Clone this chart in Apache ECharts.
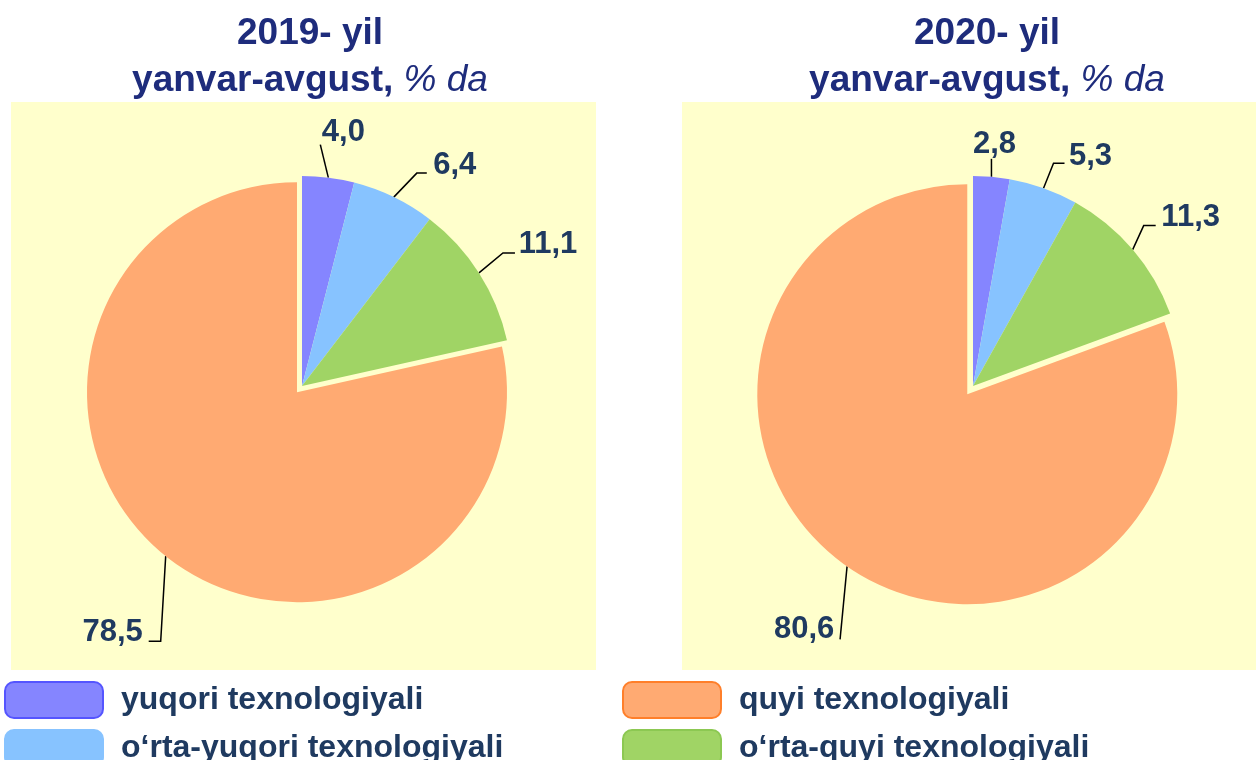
<!DOCTYPE html>
<html>
<head>
<meta charset="utf-8">
<script src="https://cdn.jsdelivr.net/npm/echarts@6/dist/echarts.min.js"></script>
<style>
html, body { margin: 0; padding: 0; background: #fff; }
#main { width: 1256px; height: 760px; }
</style>
</head>
<body>
<div id="main"></div>
<script>
var categories = ['yuqori texnologiyali', 'o\u2018rta-yuqori texnologiyali', 'o\u2018rta-quyi texnologiyali', 'quyi texnologiyali'];
var values2019 = [4.0, 6.4, 11.1, 78.5];
var values2020 = [2.8, 5.3, 11.3, 80.6];
var years = ['2019- yil', '2020- yil'];

var colors = ['#8585ff', '#87c3ff', '#a0d465', '#ffaa72'];
var borderColors = ['#5555ff', '#87c3ff', '#8cc852', '#ff7f2a'];
var textColor = '#1f3a60';
var titleColor = '#1e2c7c';
var font = '"Liberation Sans", Arial, sans-serif';

// leader line per slice: [bend dx, bend dy, tail, label dx, label dy] (from the slice edge)
var leaders2019 = [[-8, -33, 0, 23, -12], [23, -24, 10, 28, -8], [24, -20, 12, 33, -8], [-5, 85, -12, -36, -9]];
var leaders2020 = [[0, -18, 0, 3, -14], [10, -25, 11, 26, -7], [11, -24, 12, 35, -8], [-7, 73, 0, -36, -10]];

function fmt(p) {
    return p.value.toFixed(1).replace('.', ',');
}

function pieSeries(values, center, offset, leaders) {
    return {
        type: 'pie',
        center: center,
        radius: 210,
        startAngle: 90,
        clockwise: true,
        selectedMode: 'single',
        selectedOffset: offset,
        avoidLabelOverlap: false,
        animation: false,
        emphasis: { disabled: true },
        label: {
            show: true,
            position: 'outside',
            color: textColor,
            fontSize: 31,
            fontWeight: 'bold',
            fontFamily: font,
            formatter: fmt
        },
        labelLine: { show: true, lineStyle: { color: '#000', width: 1.5 } },
        labelLayout: function (p) {
            var c = leaders[p.dataIndex];
            var a = p.labelLinePoints[0];
            var bend = [a[0] + c[0], a[1] + c[1]];
            var end = [bend[0] + c[2], bend[1]];
            var r = p.labelRect;
            return {
                dx: end[0] + c[3] - (r.x + r.width / 2),
                dy: end[1] + c[4] - (r.y + r.height / 2),
                labelLinePoints: [a, bend, end]
            };
        },
        data: values.map(function (v, i) {
            var item = { name: categories[i], value: v, itemStyle: { color: colors[i] } };
            if (i === 3) item.selected = true;
            return item;
        })
    };
}

function titleOf(year, x) {
    return {
        text: '{b|' + year + '}\n{b|yanvar-avgust, }{i|% da}',
        left: x,
        top: 5,
        textAlign: 'center',
        textStyle: {
            rich: {
                b: { fontSize: 37, fontWeight: 'bold', color: titleColor, fontFamily: font, lineHeight: 47 },
                i: { fontSize: 37, fontWeight: 'normal', fontStyle: 'italic', color: titleColor, fontFamily: font, lineHeight: 47 }
            }
        }
    };
}

function legendItem(i) {
    return { name: categories[i], itemStyle: { borderColor: borderColors[i], borderWidth: 2 } };
}

function legendOf(x, idx) {
    return {
        orient: 'vertical',
        left: x,
        top: 681,
        height: 120,
        padding: 0,
        itemWidth: 98,
        itemHeight: 36,
        itemGap: 10,
        icon: 'roundRect',
        selectedMode: false,
        data: idx.map(legendItem),
        textStyle: { color: textColor, fontSize: 32, fontWeight: 'bold', fontFamily: font, padding: [0, 0, 0, 13] }
    };
}

var chart = echarts.init(document.getElementById('main'));
chart.setOption({
    backgroundColor: '#fff',
    animation: false,
    title: [titleOf(years[0], 305), titleOf(years[1], 982)],
    graphic: [
        { type: 'rect', silent: true, z: -10, shape: { x: 11, y: 102, width: 585, height: 568 }, style: { fill: '#ffffcc' } },
        { type: 'rect', silent: true, z: -10, shape: { x: 682, y: 102, width: 574, height: 568 }, style: { fill: '#ffffcc' } }
    ],
    legend: [legendOf(4, [0, 1]), legendOf(622, [3, 2])],
    series: [
        pieSeries(values2019, [302, 386], 8, leaders2019),
        pieSeries(values2020, [973, 386], 10, leaders2020)
    ]
});
</script>
</body>
</html>
